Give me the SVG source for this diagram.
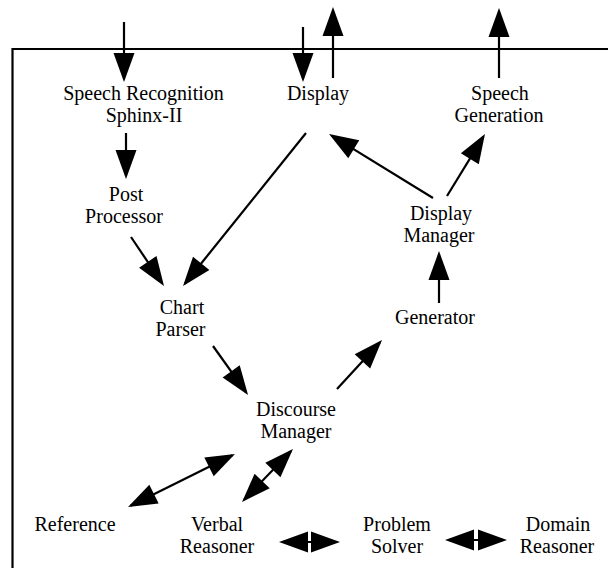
<svg xmlns="http://www.w3.org/2000/svg" width="608" height="568" viewBox="0 0 608 568">
<style>
text{font-family:"Liberation Serif","Times New Roman",serif;font-size:20px;fill:#000;text-anchor:middle}
.c{stroke:#000;stroke-width:2.2;fill:none}
.a{marker-end:url(#ah)}
.d{marker-start:url(#ahs);marker-end:url(#ah)}
</style>
<defs>
<marker id="ah" markerUnits="userSpaceOnUse" markerWidth="30" markerHeight="21" refX="26" refY="10.5" orient="auto" overflow="visible"><path d="M0,0 L29,10.5 L0,21 Z" fill="#000"/></marker>
<marker id="ahs" markerUnits="userSpaceOnUse" markerWidth="30" markerHeight="21" refX="26" refY="10.5" orient="auto-start-reverse" overflow="visible"><path d="M0,0 L29,10.5 L0,21 Z" fill="#000"/></marker>
</defs>
<rect width="608" height="568" fill="#fff"/>
<path id="frame" class="c" d="M12.5,600 V49 H620"/>
<g id="connectors">
<line class="c a" x1="124" y1="22" x2="124" y2="79"/>
<line class="c a" x1="303" y1="27" x2="303" y2="79"/>
<line class="c a" x1="333" y1="78" x2="333" y2="10"/>
<line class="c a" x1="499" y1="78" x2="499" y2="11"/>
<line class="c a" x1="126" y1="133" x2="126" y2="176"/>
<line class="c a" x1="131" y1="237" x2="162.3" y2="283.5"/>
<line class="c a" x1="306" y1="133" x2="184.9" y2="283.7"/>
<line class="c a" x1="433" y1="198" x2="331.6" y2="135.6"/>
<line class="c a" x1="447" y1="196" x2="483.4" y2="136.6"/>
<line class="c a" x1="439" y1="303" x2="439" y2="254"/>
<line class="c a" x1="213" y1="346" x2="246.3" y2="392.6"/>
<line class="c a" x1="337" y1="389" x2="380" y2="342.2"/>
<line class="c d" x1="130.7" y1="505.7" x2="232.3" y2="455.3"/>
<line class="c d" x1="244.1" y1="499.8" x2="290.9" y2="451.2"/>
<line class="c d" x1="282" y1="542" x2="337" y2="542"/>
<line class="c d" x1="448" y1="540" x2="504" y2="540"/>
</g>
<g id="speech-recognition"><text x="143.5" y="99.5">Speech Recognition</text><text x="144" y="122">Sphinx-II</text></g>
<g id="display"><text x="318" y="100">Display</text></g>
<g id="speech-generation"><text x="500" y="99.5">Speech</text><text x="499" y="122">Generation</text></g>
<g id="post-processor"><text x="126" y="201">Post</text><text x="124" y="223.2">Processor</text></g>
<g id="display-manager"><text x="441" y="220">Display</text><text x="439" y="242.2">Manager</text></g>
<g id="chart-parser"><text x="182" y="313.5">Chart</text><text x="180.5" y="335.7">Parser</text></g>
<g id="generator"><text x="435" y="324">Generator</text></g>
<g id="discourse-manager"><text x="296" y="416">Discourse</text><text x="296" y="438.2">Manager</text></g>
<g id="reference"><text x="75" y="530.5">Reference</text></g>
<g id="verbal-reasoner"><text x="217" y="530.5">Verbal</text><text x="217" y="552.7">Reasoner</text></g>
<g id="problem-solver"><text x="397" y="530.5">Problem</text><text x="397" y="552.7">Solver</text></g>
<g id="domain-reasoner"><text x="558" y="530.5">Domain</text><text x="557" y="552.7">Reasoner</text></g>
</svg>
